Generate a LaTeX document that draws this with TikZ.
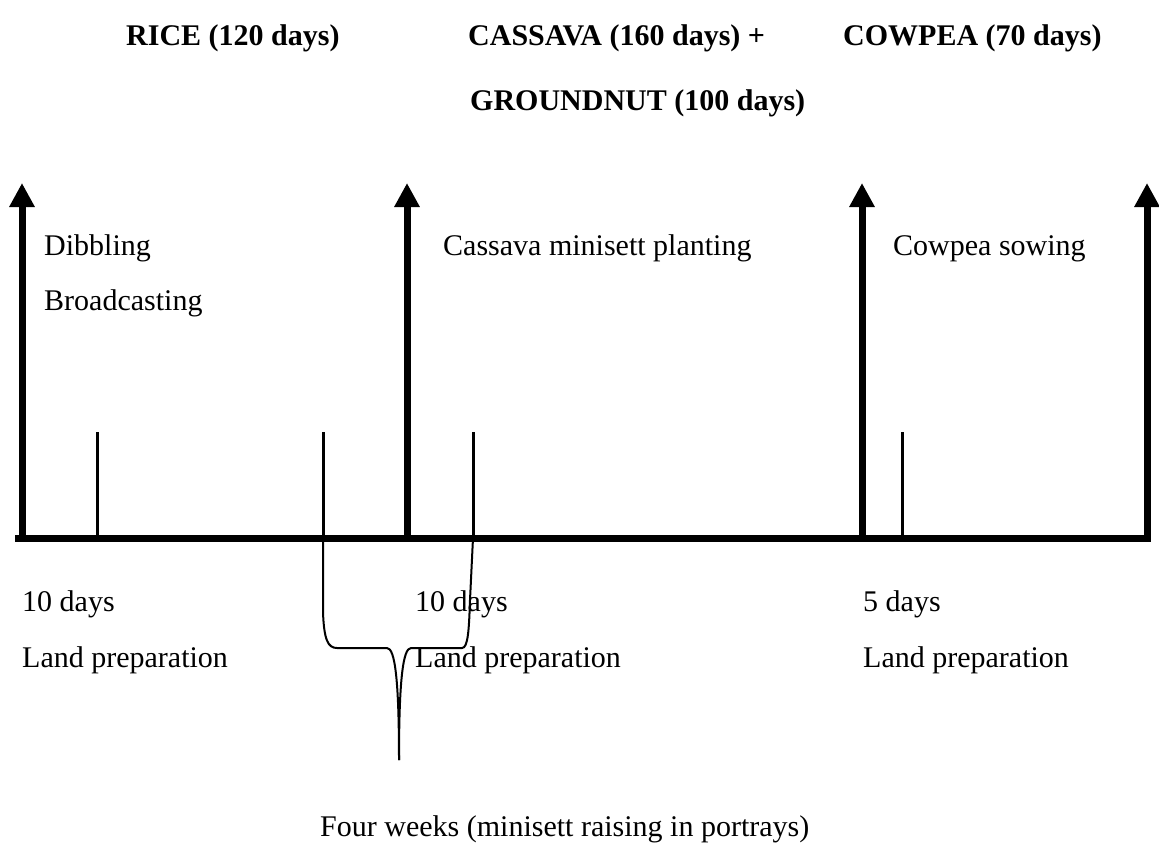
\documentclass[tikz,border=0pt]{standalone}
\usepackage{fontspec}
\setmainfont{Liberation Serif}
\usetikzlibrary{arrows.meta}
\begin{document}
\begin{tikzpicture}[x=1pt,y=-1pt,
  txt/.style={anchor=base west,inner sep=0pt,font=\fontsize{30}{36}\selectfont},
  head/.style={anchor=base west,inner sep=0pt,font=\fontsize{30}{36}\selectfont\bfseries},
  thick axis/.style={line width=7pt},
  bigarrow/.style={line width=7pt,-{Triangle[width=24pt,length=24pt]}},
  tick/.style={line width=3pt},
  brace/.style={line width=2pt}]
\useasboundingbox (0,0) rectangle (1159,863);
% headings
\node[head] (rice) at (126,45) {RICE (120 days)};
\node[head] (cass) at (468,45) {CASSAVA (160 days) +};
\node[head] (cow) at (843,45) {COWPEA (70 days)};
\node[head] (gnut) at (470,110) {GROUNDNUT (100 days)};
% axis
\coordinate (a0) at (15,538);
\coordinate (a1) at (1151,538);
\draw[thick axis] (a0) -- (a1);
% big arrows
\foreach \n/\x in {p1/22,p2/407,p3/862,p4/1147}{
  \coordinate (\n b) at (\x,541.5);
  \coordinate (\n t) at (\x,183);
  \draw[bigarrow] (\n b) -- (\n t);
}
% ticks
\foreach \n/\x in {t1/97,t2/323,t3/473,t4/902}{
  \coordinate (\n t) at (\x,432);
  \coordinate (\n b) at (\x,538);
  \draw[tick] (\n t) -- (\n b);
}
% labels above axis
\node[txt] (dib) at (44,255) {Dibbling};
\node[txt] (broad) at (44,310) {Broadcasting};
\node[txt] (cmp) at (443,255) {Cassava minisett planting};
\node[txt] (cs) at (893,255) {Cowpea sowing};
% labels below axis
\node[txt] (d1) at (22,611) {10 days};
\node[txt] (d2) at (415,611) {10 days};
\node[txt] (d3) at (863,611) {5 days};
\node[txt] (l1) at (22,667) {Land preparation};
\node[txt] (l2) at (415,667) {Land preparation};
\node[txt] (l3) at (863,667) {Land preparation};
\node[txt] (fw) at (320,836) {Four weeks (minisett raising in portrays)};
% brace
\coordinate (btip) at (399,760);
\draw[brace] (t2b) -- (323,612) .. controls (324,640) and (328,648) .. (337,648)
  -- (387,648) .. controls (395,648) and (399,680) .. (btip);
\draw[brace] (btip) .. controls (399,680) and (403,648) .. (411,648)
  -- (462,648) .. controls (468,648) and (469,630) .. (470,600) -- (t3b);
\end{tikzpicture}
\end{document}
